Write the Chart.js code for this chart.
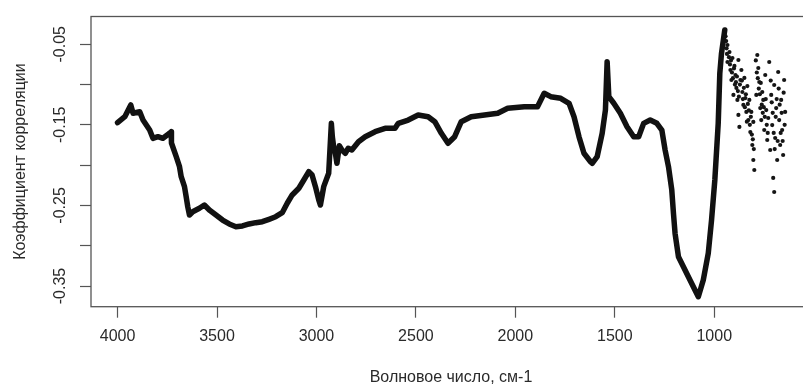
<!DOCTYPE html>
<html>
<head>
<meta charset="utf-8">
<script src="https://cdn.jsdelivr.net/npm/chart.js@4/dist/chart.umd.min.js"></script>
<style>
  html, body { margin: 0; padding: 0; background: #fff; overflow: hidden; }
  #wrap { position: absolute; left: 0; top: 0; width: 815px; height: 390px; }
</style>
</head>
<body>
<div id="wrap"><canvas id="c" width="815" height="390"></canvas></div>
<script>
// Correlation coefficient along the IR spectrum (wavenumber, cm-1)
const wavenumbers = [
  4000, 3963.5, 3933.5, 3922, 3888.5, 3872, 3838.5, 3822, 3797, 3772,
  3738.5, 3730, 3729, 3705, 3688.5, 3680, 3663.5, 3655, 3647, 3638.5,
  3622, 3588.5, 3563.5, 3538.5, 3505, 3472, 3438.5, 3405, 3372, 3338.5,
  3305, 3272, 3238.5, 3205, 3172, 3147, 3122, 3088.5, 3063.5, 3038.5,
  3022, 3005, 2988.5, 2980, 2963.5, 2938.5, 2925, 2920, 2913.5, 2905,
  2897, 2885, 2872, 2855, 2840, 2822, 2788.5, 2755, 2705, 2655,
  2605, 2588.5, 2538.5, 2488.5, 2438.5, 2405, 2372, 2338.5, 2305, 2272,
  2222, 2155, 2088.5, 2038.5, 1955, 1888.5, 1855, 1822, 1772, 1730,
  1705, 1680, 1655, 1622, 1613.5, 1588.5, 1563.5, 1547, 1538.5, 1530,
  1505, 1472, 1438.5, 1405, 1380, 1355, 1322, 1288.5, 1263.5, 1247,
  1230, 1213.5, 1205, 1197, 1180, 1155, 1122, 1097, 1080, 1055,
  1030, 1013.5, 997, 980, 972, 963.5, 947
];
const correlation = [
  -0.1473, -0.1399, -0.1253, -0.1356, -0.1337, -0.1440, -0.1564, -0.1667, -0.1647, -0.1667,
  -0.1605, -0.1585, -0.1725, -0.1895, -0.2019, -0.2143, -0.2267, -0.2392, -0.2516, -0.2619,
  -0.2578, -0.2535, -0.2495, -0.2557, -0.2619, -0.2681, -0.2730, -0.2764, -0.2755, -0.2730,
  -0.2714, -0.2702, -0.2672, -0.2640, -0.2590, -0.2473, -0.2370, -0.2287, -0.2184, -0.2081,
  -0.2122, -0.2267, -0.2432, -0.2495, -0.2267, -0.2101, -0.1481, -0.1650, -0.1771, -0.1850,
  -0.1977, -0.1760, -0.1812, -0.1853, -0.1790, -0.1812, -0.1709, -0.1647, -0.1585, -0.1543,
  -0.1543, -0.1481, -0.1440, -0.1378, -0.1399, -0.1461, -0.1605, -0.1729, -0.1647, -0.1461,
  -0.1399, -0.1378, -0.1356, -0.1294, -0.1274, -0.1274, -0.1108, -0.1150, -0.1170, -0.1232,
  -0.1399, -0.1647, -0.1853, -0.1957, -0.1977, -0.1895, -0.1605, -0.1315, -0.0716, -0.1150,
  -0.1232, -0.1356, -0.1523, -0.1647, -0.1647, -0.1481, -0.1440, -0.1481, -0.1564, -0.1812,
  -0.2019, -0.2308, -0.2598, -0.2846, -0.3136, -0.3260, -0.3425, -0.3550, -0.3633, -0.3425,
  -0.3094, -0.2681, -0.2184, -0.1481, -0.0860, -0.0612, -0.0322
];
// Scattered low-wavenumber region
const tailWavenumbers = [
  943, 940, 938, 936, 933.5, 933.5, 926, 923.5, 921, 918.5,
  916, 913.5, 911, 908.5, 906, 903.5, 901, 898.5, 896, 893.5,
  891, 888.5, 886, 883.5, 881, 878.5, 878.5, 876, 873.5, 871,
  868.5, 863.5, 861, 858.5, 856, 853.5, 851, 848.5, 846, 843.5,
  841, 838.5, 836, 833.5, 831, 828.5, 826, 823.5, 821, 818.5,
  816, 813.5, 811, 808.5, 806, 803.5, 803.5, 801, 798.5, 791,
  788.5, 786, 783.5, 781, 778.5, 776, 773.5, 771, 768.5, 766,
  763.5, 761, 758.5, 756, 753.5, 751, 748.5, 746, 743.5, 741,
  738.5, 736, 733.5, 731, 728.5, 723.5, 718.5, 716, 713.5, 711,
  708.5, 706, 703.5, 701, 698.5, 698.5, 696, 693.5, 691, 688.5,
  686, 683.5, 681, 678.5, 676, 673.5, 671, 668.5, 666, 663.5,
  661, 658.5, 656, 653.5, 651, 648.5, 646, 643.5
];
const tailCorrelation = [
  -0.0400, -0.0460, -0.0550, -0.0620, -0.0509, -0.0720, -0.0660, -0.0596, -0.0750, -0.0819,
  -0.0700, -0.0943, -0.0850, -0.0670, -0.0920, -0.1129, -0.0800, -0.0769, -0.1000, -0.0881,
  -0.0970, -0.1042, -0.0900, -0.1190, -0.1080, -0.0695, -0.1377, -0.1150, -0.1526, -0.1000,
  -0.0943, -0.0819, -0.0950, -0.1092, -0.1180, -0.1252, -0.1040, -0.0918, -0.1280, -0.1167,
  -0.1120, -0.1340, -0.1460, -0.1018, -0.1240, -0.1440, -0.1320, -0.1190, -0.1500, -0.1589,
  -0.1400, -0.1340, -0.1620, -0.1750, -0.1680, -0.1936, -0.1464, -0.1800, -0.2060, -0.0700,
  -0.1129, -0.0850, -0.0633, -0.0920, -0.0794, -0.1050, -0.0968, -0.1120, -0.1291, -0.0980,
  -0.1440, -0.1250, -0.1092, -0.1350, -0.1190, -0.1280, -0.1564, -0.1400, -0.0881, -0.1180,
  -0.1316, -0.1500, -0.1688, -0.1600, -0.1415, -0.0720, -0.1812, -0.0950, -0.1129, -0.1220,
  -0.1502, -0.1350, -0.2159, -0.1600, -0.2333, -0.1005, -0.1800, -0.1663, -0.1400, -0.1291,
  -0.1180, -0.1936, -0.1700, -0.0844, -0.1050, -0.1440, -0.1250, -0.1750, -0.1600, -0.1190,
  -0.1350, -0.1564, -0.1700, -0.1874, -0.1100, -0.0943, -0.1500, -0.1340
];
const xTicks = [4000, 3500, 3000, 2500, 2000, 1500, 1000];
const yTicks = [-0.35, -0.30, -0.25, -0.20, -0.15, -0.10, -0.05];
const yTickLabels = ['-0.35', '', '-0.25', '', '-0.15', '', '-0.05'];

const mainPoints = wavenumbers.map((w, i) => ({ x: w, y: correlation[i] }));
const tailPoints = tailWavenumbers.map((w, i) => ({ x: w, y: tailCorrelation[i] }));

const FONT = 'Liberation Sans, Arial, sans-serif';
const TEXT = '#2a2a2a';
const FRAME = '#555';

// Closed frame around the plotting region
const frame = {
  id: 'frame',
  afterDatasetsDraw(chart) {
    const a = chart.chartArea, ctx = chart.ctx;
    ctx.save();
    ctx.strokeStyle = FRAME;
    ctx.lineWidth = 1.3;
    ctx.strokeRect(a.left, a.top, a.right - a.left, a.bottom - a.top);
    ctx.restore();
  }
};

new Chart(document.getElementById('c'), {
  type: 'scatter',
  data: {
    datasets: [
      {
        data: mainPoints,
        showLine: true,
        borderColor: '#111',
        borderWidth: 5.5,
        borderJoinStyle: 'round',
        borderCapStyle: 'round',
        pointRadius: 0,
        tension: 0
      },
      {
        data: tailPoints,
        showLine: false,
        backgroundColor: '#151515',
        borderColor: '#151515',
        borderWidth: 0,
        pointRadius: 2.1
      }
    ]
  },
  options: {
    responsive: false,
    animation: false,
    devicePixelRatio: 1,
    layout: { padding: { top: 16.5, left: 0, right: 0, bottom: 0 } },
    plugins: { legend: { display: false }, tooltip: { enabled: false } },
    scales: {
      x: {
        type: 'linear',
        reverse: true,
        min: 513.5,
        max: 4133.5,
        afterFit(s) { s.height = 83.3; },
        afterBuildTicks(s) { s.ticks = xTicks.map(v => ({ value: v })); },
        grid: { drawOnChartArea: false, drawTicks: true, tickLength: 11, tickColor: FRAME, tickWidth: 1.2 },
        border: { display: false },
        ticks: { color: TEXT, font: { family: FONT, size: 16 }, padding: 9, maxRotation: 0, autoSkip: false,
                 callback: v => String(v) },
        title: { display: true, text: 'Волновое число, см-1', color: TEXT,
                 font: { family: FONT, size: 16 }, padding: { top: 0, bottom: 2.5 } }
      },
      y: {
        type: 'linear',
        min: -0.37569,
        max: -0.0155,
        afterFit(s) { s.width = 91; },
        afterBuildTicks(s) { s.ticks = yTicks.map(v => ({ value: v })); },
        grid: { drawOnChartArea: false, drawTicks: true, tickLength: 11, tickColor: FRAME, tickWidth: 1.2 },
        border: { display: false },
        ticks: { color: TEXT, font: { family: FONT, size: 16 }, padding: 1, minRotation: 90, maxRotation: 90,
                 crossAlign: 'center', autoSkip: false,
                 callback: (v, i) => yTickLabels[i] },
        title: { display: true, text: 'Коэффициент корреляции', color: TEXT,
                 font: { family: FONT, size: 16 }, padding: { top: 10.5, bottom: 0 } }
      }
    }
  },
  plugins: [frame]
});
</script>
</body>
</html>
